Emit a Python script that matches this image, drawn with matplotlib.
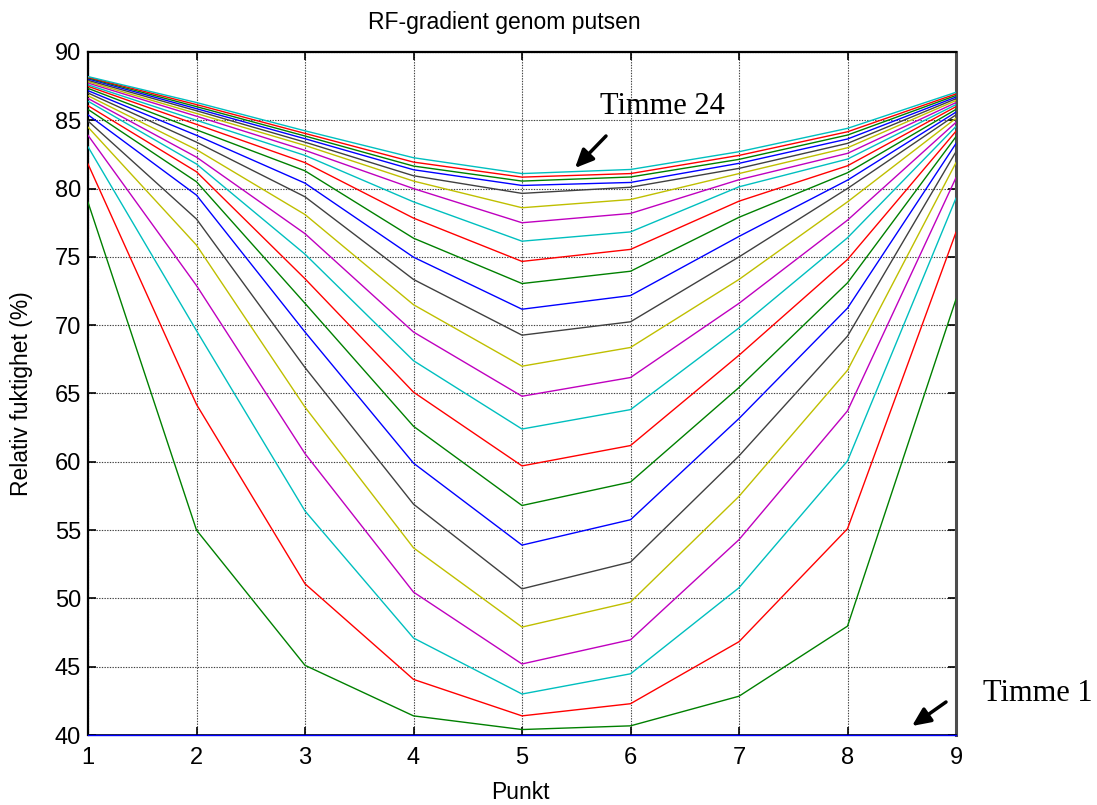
import matplotlib
matplotlib.use("Agg")
import matplotlib.pyplot as plt
import numpy as np

# Measurement points (Punkt) and relative humidity (%) per hour (Timme 1 .. 25)
punkt = [1, 2, 3, 4, 5, 6, 7, 8, 9]

rh_p1 = [40.0, 79.0, 81.8, 83.06, 83.9, 84.5, 84.95, 85.4, 85.8, 86.07, 86.4, 86.6, 86.8,
         87.0, 87.17, 87.34, 87.49, 87.6, 87.73, 87.83, 87.93, 88.03, 88.1, 88.15, 88.2]
rh_p2 = [40.0, 55.0, 64.2, 69.6, 72.9, 75.86, 77.77, 79.52, 80.5, 81.23, 81.8, 82.3, 82.85,
         83.4, 83.9, 84.3, 84.7, 85.0, 85.3, 85.5, 85.7, 85.85, 86.0, 86.15, 86.3]
rh_p3 = [40.0, 45.1, 51.07, 56.4, 60.6, 64.0, 66.9, 69.5, 71.6, 73.4, 75.2, 76.7, 78.1,
         79.4, 80.4, 81.3, 81.9, 82.43, 82.8, 83.16, 83.4, 83.65, 83.85, 84.04, 84.23]
rh_p4 = [40.0, 41.4, 44.07, 47.1, 50.46, 53.7, 56.9, 59.9, 62.6, 65.1, 67.4, 69.5, 71.5,
         73.35, 74.98, 76.37, 77.84, 79.03, 80.0, 80.55, 80.94, 81.38, 81.65, 81.94, 82.26]
rh_p5 = [40.0, 40.4, 41.4, 43.0, 45.2, 47.9, 50.7, 53.9, 56.8, 59.7, 62.4, 64.8, 67.0,
         69.27, 71.17, 73.05, 74.67, 76.15, 77.5, 78.6, 79.65, 80.23, 80.55, 80.84, 81.1]
rh_p6 = [40.0, 40.67, 42.29, 44.48, 46.97, 49.73, 52.66, 55.76, 58.52, 61.19, 63.82, 66.17, 68.37,
         70.25, 72.17, 73.95, 75.55, 76.83, 78.18, 79.2, 80.1, 80.45, 80.85, 81.1, 81.4]
rh_p7 = [40.0, 42.84, 46.83, 50.78, 54.3, 57.47, 60.43, 63.17, 65.44, 67.8, 69.8, 71.6, 73.35,
         75.0, 76.5, 77.9, 79.08, 80.13, 80.65, 81.1, 81.48, 81.85, 82.14, 82.43, 82.7]
rh_p8 = [40.0, 47.97, 55.1, 60.06, 63.73, 66.7, 69.2, 71.25, 73.1, 74.81, 76.4, 77.69, 79.03,
         80.01, 80.62, 81.16, 81.67, 82.16, 82.58, 82.99, 83.31, 83.63, 83.92, 84.16, 84.41]
rh_p9 = [40.0, 71.9, 76.8, 79.3, 80.8, 81.9, 82.7, 83.3, 83.8, 84.2, 84.55, 84.85, 85.15,
         85.4, 85.6, 85.8, 86.0, 86.15, 86.3, 86.45, 86.58, 86.7, 86.82, 86.93, 87.05]

x_ticks = [1, 2, 3, 4, 5, 6, 7, 8, 9]
y_ticks = [40, 45, 50, 55, 60, 65, 70, 75, 80, 85, 90]

title_text = "RF-gradient genom putsen"
xlabel_text = "Punkt"
ylabel_text = "Relativ fuktighet (%)"
label_last = "Timme 24"
label_first = "Timme 1"

matlab_colors = [(0, 0, 1), (0, 0.5, 0), (1, 0, 0), (0, 0.75, 0.75),
                 (0.75, 0, 0.75), (0.75, 0.75, 0), (0.25, 0.25, 0.25)]

plt.rcParams['font.family'] = ['Liberation Sans', 'DejaVu Sans']

fig = plt.figure(figsize=(10.97, 8.05), dpi=100)
ax = fig.add_axes([88 / 1097, 1 - 735 / 805, (956 - 88) / 1097, (735 - 52) / 805])

data = np.array([rh_p1, rh_p2, rh_p3, rh_p4, rh_p5, rh_p6, rh_p7, rh_p8, rh_p9])
n_series = data.shape[1]
for k in range(n_series):
    ax.plot(punkt, data[:, k], color=matlab_colors[k % 7], lw=1.0,
            clip_on=(k != 0), zorder=3)

ax.set_xlim(1, 9)
ax.set_ylim(40, 90)
ax.set_xticks(x_ticks)
ax.set_yticks(y_ticks)
ax.grid(True, color='0.25', linestyle=(0, (1.2, 1.2)), linewidth=0.8)
ax.set_axisbelow(True)
ax.tick_params(direction='in', length=6, width=1.2, top=True, right=True,
               labelsize=17, color='black')
ax.tick_params(axis='x', pad=9)
ax.tick_params(axis='y', pad=5)
for side in ['left', 'top']:
    ax.spines[side].set_linewidth(1.6)
    ax.spines[side].set_color('black')
ax.spines['right'].set_linewidth(2.2)
ax.spines['right'].set_color('0.3')
ax.spines['bottom'].set_linewidth(1.2)

fig.text(504 / 1097, 1 - 23 / 805, title_text, fontsize=16.5, ha='center', va='center')
fig.text(520 / 1097, 1 - 792 / 805, xlabel_text, fontsize=16.5, ha='center', va='center')
fig.text(22 / 1097, 1 - 394 / 805, ylabel_text, fontsize=16.5, ha='center', va='center',
         rotation=90)

fig.text(662 / 1097, 1 - 107 / 805, label_last, fontsize=22,
         family=['Liberation Serif', 'DejaVu Serif'], ha='center', va='center')
ax.annotate('', xy=(575, 805 - 168), xycoords='figure pixels',
            xytext=(606, 805 - 136), textcoords='figure pixels',
            arrowprops=dict(arrowstyle='-|>,head_length=1.1,head_width=0.5',
                            color='black', lw=2.5, shrinkA=0, shrinkB=0))
fig.text(1038 / 1097, 1 - 693 / 805, label_first, fontsize=22,
         family=['Liberation Serif', 'DejaVu Serif'], ha='center', va='center')
ax.annotate('', xy=(912, 805 - 726), xycoords='figure pixels',
            xytext=(946, 805 - 702), textcoords='figure pixels',
            arrowprops=dict(arrowstyle='-|>,head_length=1.1,head_width=0.5',
                            color='black', lw=2.5, shrinkA=0, shrinkB=0))

fig.savefig("out.png", dpi=100)
